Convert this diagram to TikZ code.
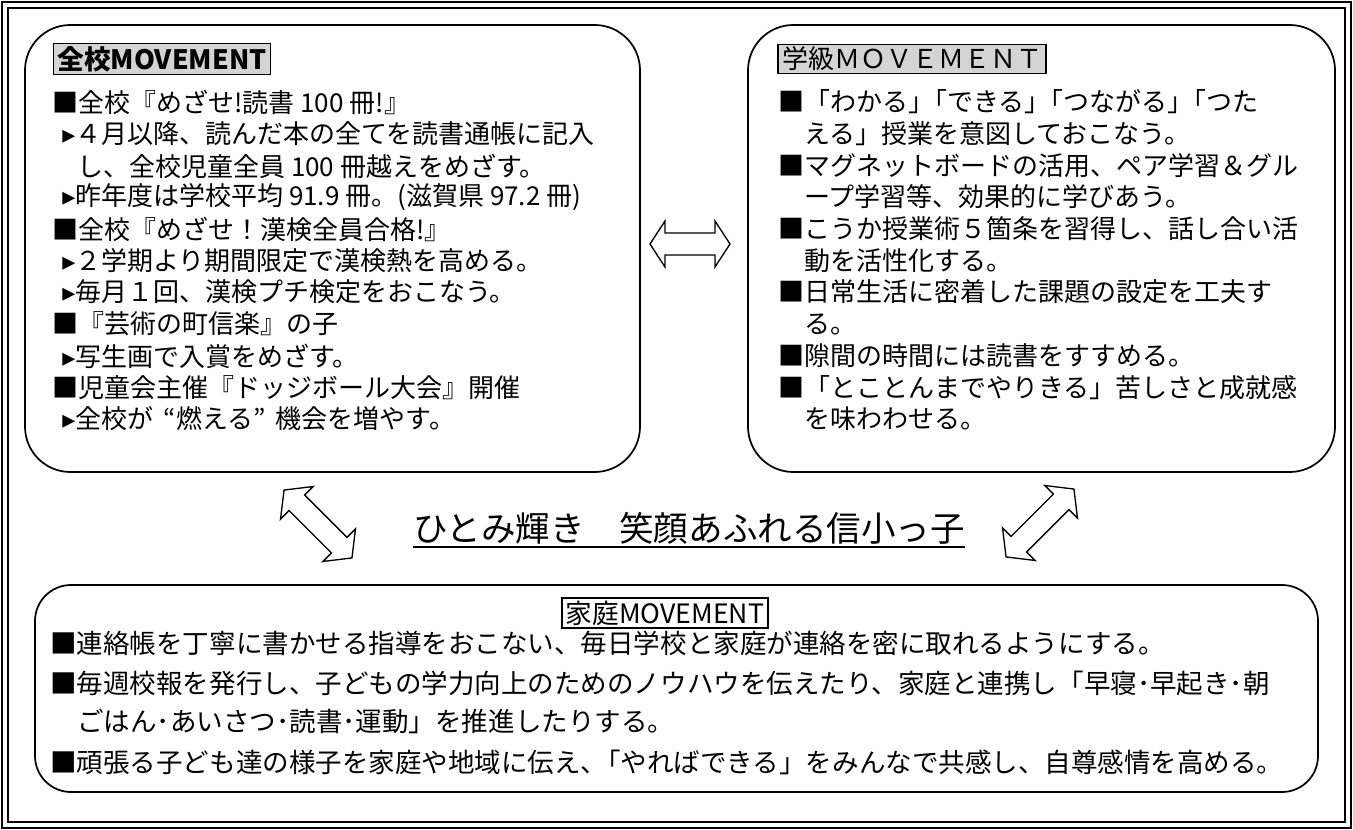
\documentclass[tikz,border=0pt]{standalone}
\usepackage{fontspec}
\setmainfont{Noto Sans CJK JP}
\newfontfamily\dejavu{DejaVu Sans}
\newcommand{\tri}{{\dejavu ▸}}
\newcommand{\kk}{\hspace{-0.5em}}
\tikzset{
  x=0.75pt, y=-0.75pt,
  panel/.style={draw, line width=1.3pt, rounded corners=#1},
  body/.style={anchor=west, inner sep=0pt, font=\fontsize{19.5}{22}\selectfont},
  hbody/.style={anchor=west, inner sep=0pt, font=\fontsize{19.9}{24}\selectfont},
  tag/.style={draw, line width=1.1pt, inner xsep=3pt, inner ysep=2pt},
  blockarrow/.style={draw, line width=1pt, fill=white, line join=miter},
  dblarrow/.pic={\draw[blockarrow] (-40,0) -- (-25,-23) -- (-25,-11) -- (25,-11) -- (25,-23) -- (40,0) -- (25,23) -- (25,11) -- (-25,11) -- (-25,23) -- cycle;}
}
\begin{document}
\begin{tikzpicture}
\useasboundingbox (0,0) rectangle (1353,830);
\fill[white] (0,0) rectangle (1353,830);
% outer double frame
\draw[line width=2pt] (2,2) rectangle (1351,828);
\draw[line width=1pt] (8,8) rectangle (1345,822);
% panels
\draw[panel=34pt] (25,25) rectangle (640,472);
\draw[panel=34pt] (748,25) rectangle (1335,472);
\draw[panel=27pt] (35,585) rectangle (1318,792);
% left panel
\node[tag, fill=black!17, font=\fontsize{20}{24}\selectfont\bfseries] (lt) at (162,59) {全校MOVEMENT};
\node[body] (l1) at (52,102) {■全校『めざせ!読書 100 冊!』};
\node[body] (l2) at (62,134) {\tri ４月以降、読んだ本の全てを読書通帳に記入};
\node[body] (l3) at (77,166) {し、全校児童全員 100 冊越えをめざす。};
\node[body] (l4) at (62,197) {\tri 昨年度は学校平均 91.9 冊。(滋賀県 97.2 冊)};
\node[body] (l5) at (52,229) {■全校『めざせ！漢検全員合格!』};
\node[body] (l6) at (62,261) {\tri ２学期より期間限定で漢検熱を高める。};
\node[body] (l7) at (62,292) {\tri 毎月１回、漢検プチ検定をおこなう。};
\node[body] (l8) at (52,324) {■『芸術の町信楽』の子};
\node[body] (l9) at (62,356) {\tri 写生画で入賞をめざす。};
\node[body] (l10) at (52,388) {■児童会主催『ドッジボール大会』開催};
\node[body] (l11) at (62,419) {\tri 全校が\hspace{0.4em}“燃える”\hspace{0.4em}機会を増やす。};
% right panel
\node[tag, fill=black!17, font=\fontsize{19.5}{24}\selectfont] (rt) at (912,59) {学級ＭＯＶＥＭＥＮＴ};
\node[body] (r1) at (778,102) {■「わかる」\kk「できる」\kk「つながる」\kk「つた};
\node[body] (r2) at (804,134) {える」授業を意図しておこなう。};
\node[body] (r3) at (778,166) {■マグネットボードの活用、ペア学習＆グル};
\node[body] (r4) at (804,197) {ープ学習等、効果的に学びあう。};
\node[body] (r5) at (778,229) {■こうか授業術５箇条を習得し、話し合い活};
\node[body] (r6) at (804,261) {動を活性化する。};
\node[body] (r7) at (778,292) {■日常生活に密着した課題の設定を工夫す};
\node[body] (r8) at (804,324) {る。};
\node[body] (r9) at (778,356) {■隙間の時間には読書をすすめる。};
\node[body] (r10) at (778,388) {■「とことんまでやりきる」苦しさと成就感};
\node[body] (r11) at (804,419) {を味わわせる。};
% arrows
\pic at (690,244) {dblarrow};
\pic[rotate=-45, xscale=1.2] at (318,524) {dblarrow};
\pic[rotate=45, xscale=1.2] at (1040,523) {dblarrow};
% motto
\node[inner sep=0pt, font=\fontsize{25.9}{30}\selectfont] (motto) at (689,528) {ひとみ輝き　笑顔あふれる信小っ子};
\draw[line width=1.5pt] ([yshift=-2pt]motto.south west) -- ([yshift=-2pt]motto.south east);
% bottom panel
\node[tag, font=\fontsize{20}{24}\selectfont] (bt) at (665,613) {家庭MOVEMENT};
\node[hbody] (b1) at (50,643) {■連絡帳を丁寧に書かせる指導をおこない、毎日学校と家庭が連絡を密に取れるようにする。};
\node[hbody] (b2) at (50,683) {■毎週校報を発行し、子どもの学力向上のためのノウハウを伝えたり、家庭と連携し「早寝･早起き･朝};
\node[hbody] (b3) at (77,721) {ごはん･あいさつ･読書･運動」を推進したりする。};
\node[hbody] (b4) at (50,762) {■頑張る子ども達の様子を家庭や地域に伝え、\kk「やればできる」をみんなで共感し、自尊感情を高める。};
\end{tikzpicture}
\end{document}
